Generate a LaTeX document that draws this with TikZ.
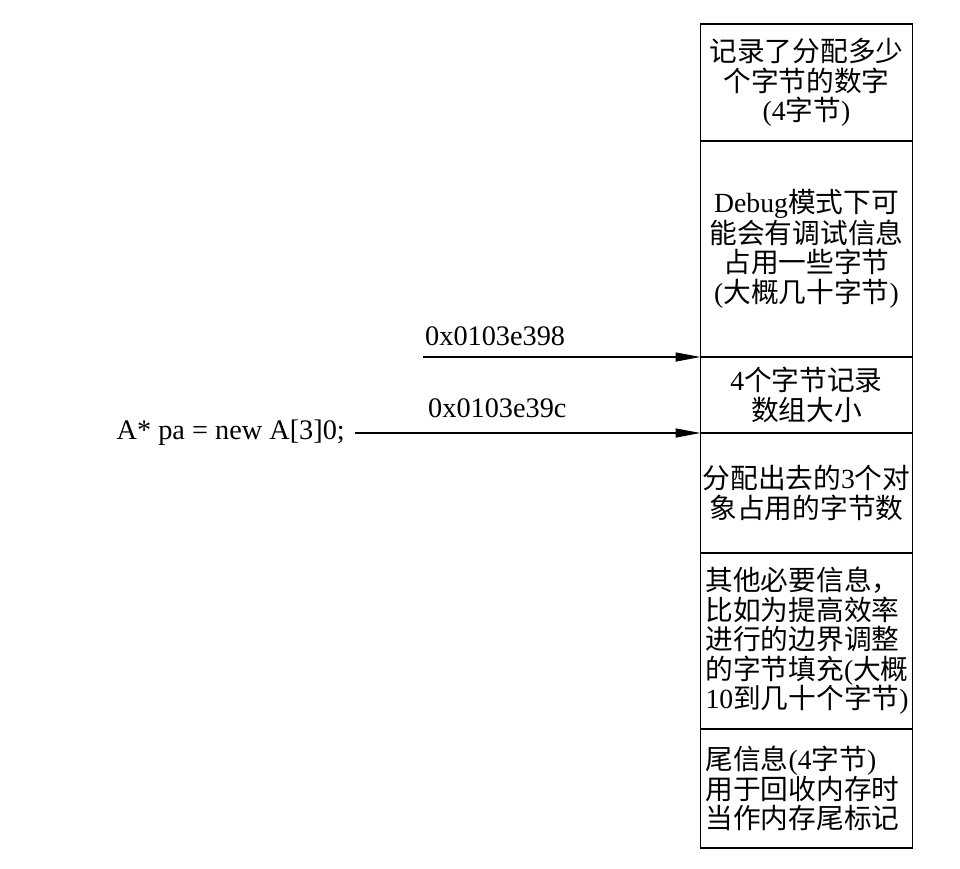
\documentclass[tikz,border=0pt]{standalone}
\usepackage{fontspec}
\setmainfont{Liberation Serif}
\newfontfamily\cjk{Noto Sans CJK SC}
\newcommand{\zh}[1]{{\cjk #1}}
\usetikzlibrary{arrows.meta}

\begin{document}
\begin{tikzpicture}[x=1pt,y=-1pt,
    cell/.style={draw, line width=1.4pt, anchor=north west, minimum width=212pt,
        text width=212pt, inner xsep=0pt, inner ysep=0pt, outer sep=0pt,
        align=center, font=\fontsize{27.7}{29.5}\selectfont},
    leftcell/.style={cell, text width=202pt, inner xsep=5pt, align=left},
    ptr/.style={-{Triangle[length=25pt,width=9pt]}, line width=1.3pt},
    lbl/.style={font=\fontsize{28.3}{29}\selectfont, inner sep=0pt}]
    \useasboundingbox (0,0) rectangle (960,868);

    % Draw memory cells
    \node[cell, minimum height=117pt] (size) at (700.5,24)
        {\zh{记录了分配多少}\\\zh{个字节的数字}\\(4\zh{字节})};
    \node[cell, minimum height=216pt] (dbg) at (700.5,141)
        {Debug\zh{模式下可}\\\zh{能会有调试信息}\\\zh{占用一些字节}\\(\zh{大概几十字节})};
    \node[cell, minimum height=76pt] (cnt) at (700.5,357)
        {4\zh{个字节记录}\\\zh{数组大小}};
    \node[cell, minimum height=120pt] (objs) at (700.5,433)
        {\zh{分配出去的}3\zh{个对}\\\zh{象占用的字节数}};
    \node[leftcell, minimum height=176pt] (pad) at (700.5,553)
        {\zh{其他必要信息，}\\\zh{比如为提高效率}\\\zh{进行的边界调整}\\\zh{的字节填充}(\zh{大概}\\10\zh{到几十个字节})};
    \node[leftcell, minimum height=119pt] (tail) at (700.5,729)
        {\zh{尾信息}(4\zh{字节})\\\zh{用于回收内存时}\\\zh{当作内存尾标记}};

    % Draw pointers
    \node[lbl, anchor=east, inner xsep=10pt] (code) at (355,433) {A* pa = new A[3]0;};
    \coordinate (raw) at (423,357);
    \draw[ptr] (raw) -- (dbg.south west);
    \draw[ptr] (code.east) -- (cnt.south west);
    \node[lbl, anchor=base west] (addr1) at (425,345) {0x0103e398};
    \node[lbl, anchor=base west] (addr2) at (428,417) {0x0103e39c};
\end{tikzpicture}
\end{document}
